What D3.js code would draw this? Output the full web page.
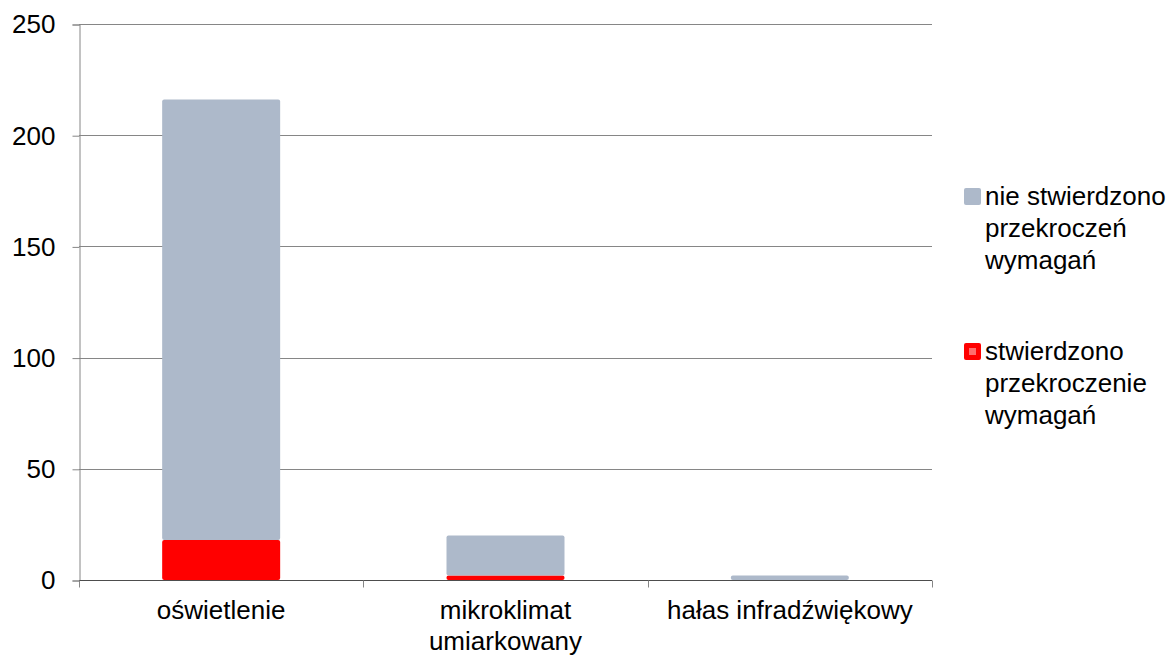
<!DOCTYPE html>
<html>
<head>
<meta charset="utf-8">
<script src="https://cdn.jsdelivr.net/npm/d3@7"></script>
<style>
  body { margin: 0; background: #fff; }
  svg text { font-family: "Liberation Sans", Arial, sans-serif; fill: #000; }
</style>
</head>
<body>
<div id="chart"></div>
<script>
// data
var categories = [["oświetlenie"], ["mikroklimat", "umiarkowany"], ["hałas infradźwiękowy"]];
var exceeded = [18, 2, 0];        // stwierdzono przekroczenie wymagań
var notExceeded = [198, 18, 2];   // nie stwierdzono przekroczeń wymagań
var yTicks = [0, 50, 100, 150, 200, 250];
var legendLabels = [
  ["nie stwierdzono", "przekroczeń", "wymagań"],
  ["stwierdzono", "przekroczenie", "wymagań"]
];
var colors = ["#adb9ca", "#ff0000"];

var width = 1174, height = 657;
var margin = { top: 24, left: 79, right: 242, bottom: 77 };
var fontSize = '26px';

var svg = d3.select('#chart').append('svg')
  .attr('width', width)
  .attr('height', height);

var x = d3.scaleBand()
  .domain(d3.range(categories.length))
  .range([margin.left, width - margin.right])
  .paddingInner(0.585)
  .paddingOuter(0.2925);

var y = d3.scaleLinear()
  .domain([0, 250])
  .range([height - margin.bottom, margin.top]);

// gridlines
svg.append('g')
  .selectAll('line')
  .data(yTicks.slice(1))
  .enter().append('line')
  .attr('x1', margin.left)
  .attr('x2', width - margin.right)
  .attr('y1', function(d) { return Math.round(y(d)) + 0.5; })
  .attr('y2', function(d) { return Math.round(y(d)) + 0.5; })
  .attr('stroke', '#868686')
  .attr('stroke-width', 1);

// y axis
var yAxis = d3.axisLeft(y).tickValues(yTicks).tickSize(7).tickPadding(17);
var gy = svg.append('g')
  .attr('transform', 'translate(' + (margin.left + 0.5) + ',0.5)')
  .call(yAxis);
gy.select('.domain').attr('stroke', '#868686');
gy.selectAll('.tick line').attr('stroke', '#868686');
gy.selectAll('.tick text').attr('font-size', fontSize).attr('fill', '#000');

// stacked bars
var stack = categories.map(function(c, i) {
  return [
    { y0: 0, y1: exceeded[i], c: colors[1] },
    { y0: exceeded[i], y1: exceeded[i] + notExceeded[i], c: colors[0] }
  ];
});

var groups = svg.append('g').selectAll('g')
  .data(stack)
  .enter().append('g');

groups.selectAll('rect')
  .data(function(d, i) { return d.map(function(s) { s.i = i; return s; }).filter(function(s) { return s.y1 > s.y0; }); })
  .enter().append('rect')
  .attr('x', function(d) { return x(d.i); })
  .attr('width', x.bandwidth())
  .attr('y', function(d) { return y(d.y1); })
  .attr('height', function(d) { return y(d.y0) - y(d.y1); })
  .attr('rx', 2)
  .attr('fill', function(d) { return d.c; });

// x axis
var xAxisY = Math.round(y(0)) + 0.5;
var xg = svg.append('g');
xg.append('line')
  .attr('x1', margin.left).attr('x2', width - margin.right)
  .attr('y1', xAxisY).attr('y2', xAxisY)
  .attr('stroke', '#4d4d4d');
var tickPos = d3.range(categories.length + 1).map(function(i) {
  return margin.left + i * (width - margin.right - margin.left) / categories.length;
});
xg.selectAll('line.tk')
  .data(tickPos)
  .enter().append('line')
  .attr('class', 'tk')
  .attr('x1', function(d) { return Math.round(d) + 0.5; })
  .attr('x2', function(d) { return Math.round(d) + 0.5; })
  .attr('y1', xAxisY).attr('y2', xAxisY + 7)
  .attr('stroke', '#868686');

xg.selectAll('text')
  .data(categories)
  .enter().append('text')
  .attr('x', function(d, i) { return x(i) + x.bandwidth() / 2; })
  .attr('y', 619)
  .attr('text-anchor', 'middle')
  .attr('font-size', fontSize)
  .selectAll('tspan')
  .data(function(d) { return d; })
  .enter().append('tspan')
  .attr('x', function() { return d3.select(this.parentNode).attr('x'); })
  .attr('dy', function(d, j) { return j === 0 ? 0 : 31; })
  .text(function(d) { return d; });

// legend
var legendTop = [188, 343];
var legend = svg.append('g').selectAll('g')
  .data(legendLabels)
  .enter().append('g')
  .attr('transform', function(d, i) { return 'translate(964,' + legendTop[i] + ')'; });

legend.append('rect')
  .attr('width', 17).attr('height', 17)
  .attr('rx', 2)
  .attr('fill', function(d, i) { return colors[i]; });

legend.filter(function(d, i) { return i === 1; })
  .append('rect')
  .attr('x', 5).attr('y', 5).attr('width', 7).attr('height', 7)
  .attr('fill', '#ff6e6e');

legend.append('text')
  .attr('x', 21)
  .attr('y', 17)
  .attr('font-size', fontSize)
  .selectAll('tspan')
  .data(function(d) { return d; })
  .enter().append('tspan')
  .attr('x', 21)
  .attr('dy', function(d, j) { return j === 0 ? 0 : 32; })
  .text(function(d) { return d; });
</script>
</body>
</html>
